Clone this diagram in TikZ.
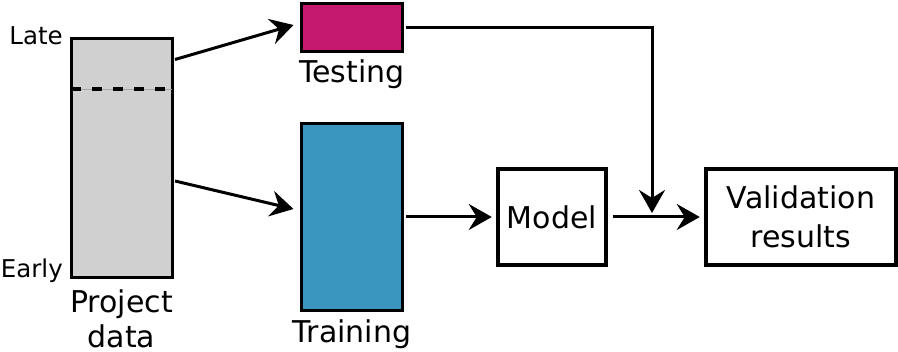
\documentclass[tikz,border=0pt]{standalone}
\usepackage{fontspec}
\setmainfont{DejaVu Sans}
\usetikzlibrary{arrows.meta}
\definecolor{projgray}{HTML}{D0D0D0}
\definecolor{testmag}{HTML}{C4196F}
\definecolor{trainblue}{HTML}{3A96BF}
\tikzset{
  databox/.style={draw=black, line width=3pt, rectangle, inner sep=0pt},
  procbox/.style={draw=black, line width=4.5pt, rectangle, inner sep=0pt, align=center,
    font=\fontsize{30}{38.5}\selectfont},
  arr/.style={line width=3pt, -{Stealth[length=23pt, width=26pt, inset=8pt]}},
  lbl/.style={inner sep=0pt, font=\fontsize{30}{35}\selectfont},
  slbl/.style={inner sep=0pt, font=\fontsize{24.5}{30}\selectfont},
}
\begin{document}
\begin{tikzpicture}[x=1pt, y=-1pt]
\useasboundingbox (0,0) rectangle (898,352);
% boxes
\node[databox, fill=projgray, minimum width=101pt, minimum height=239pt] (proj) at (121.5,158.5) {};
\node[databox, fill=testmag, minimum width=101pt, minimum height=48pt] (test) at (352,27.5) {};
\node[databox, fill=trainblue, minimum width=101pt, minimum height=187pt] (train) at (352,217) {};
\node[procbox, minimum width=108pt, minimum height=96pt] (model) at (552,217) {Model};
\node[procbox, minimum width=190pt, minimum height=96pt] (valid) at (801,217) {Validation\\results};
% dashed split
\coordinate (dl) at (0,89);
\draw[gray!70, line width=0.8pt] ([xshift=1.5pt]proj.west |- dl) -- ([xshift=-1.5pt]proj.east |- dl);
\draw[black, line width=4pt, dash pattern=on 10pt off 11pt] ([xshift=1.5pt]proj.west |- dl) -- ([xshift=-1.5pt]proj.east |- dl);
% labels
\node[slbl, anchor=base east] (late) at (63,45) {Late};
\node[slbl, anchor=base east] (early) at (63,278) {Early};
\node[lbl, anchor=base] (testl) at (352,83) {Testing};
\node[lbl, anchor=base] (trainl) at (352,343) {Training};
\node[lbl, anchor=north, align=center] (projl) at (121.5,290) {Project\\data};
% connectors
\coordinate (join) at (652,217);
\draw[arr] ([xshift=1.5pt,yshift=-22pt]proj.north east) -- ([xshift=-6.5pt,yshift=2.5pt]test.west);
\draw[arr] ([xshift=1.5pt,yshift=-22.5pt]proj.east) -- ([xshift=-6.5pt,yshift=8pt]train.west);
\draw[arr, shorten >=4pt] ([xshift=1.5pt]test.east) -| (join);
\draw[arr, shorten >=4pt] ([xshift=1.5pt]train.east) -- (model.west);
\draw[arr, shorten <=5pt, shorten >=4pt] (model.east) -- (valid.west);
\end{tikzpicture}
\end{document}
